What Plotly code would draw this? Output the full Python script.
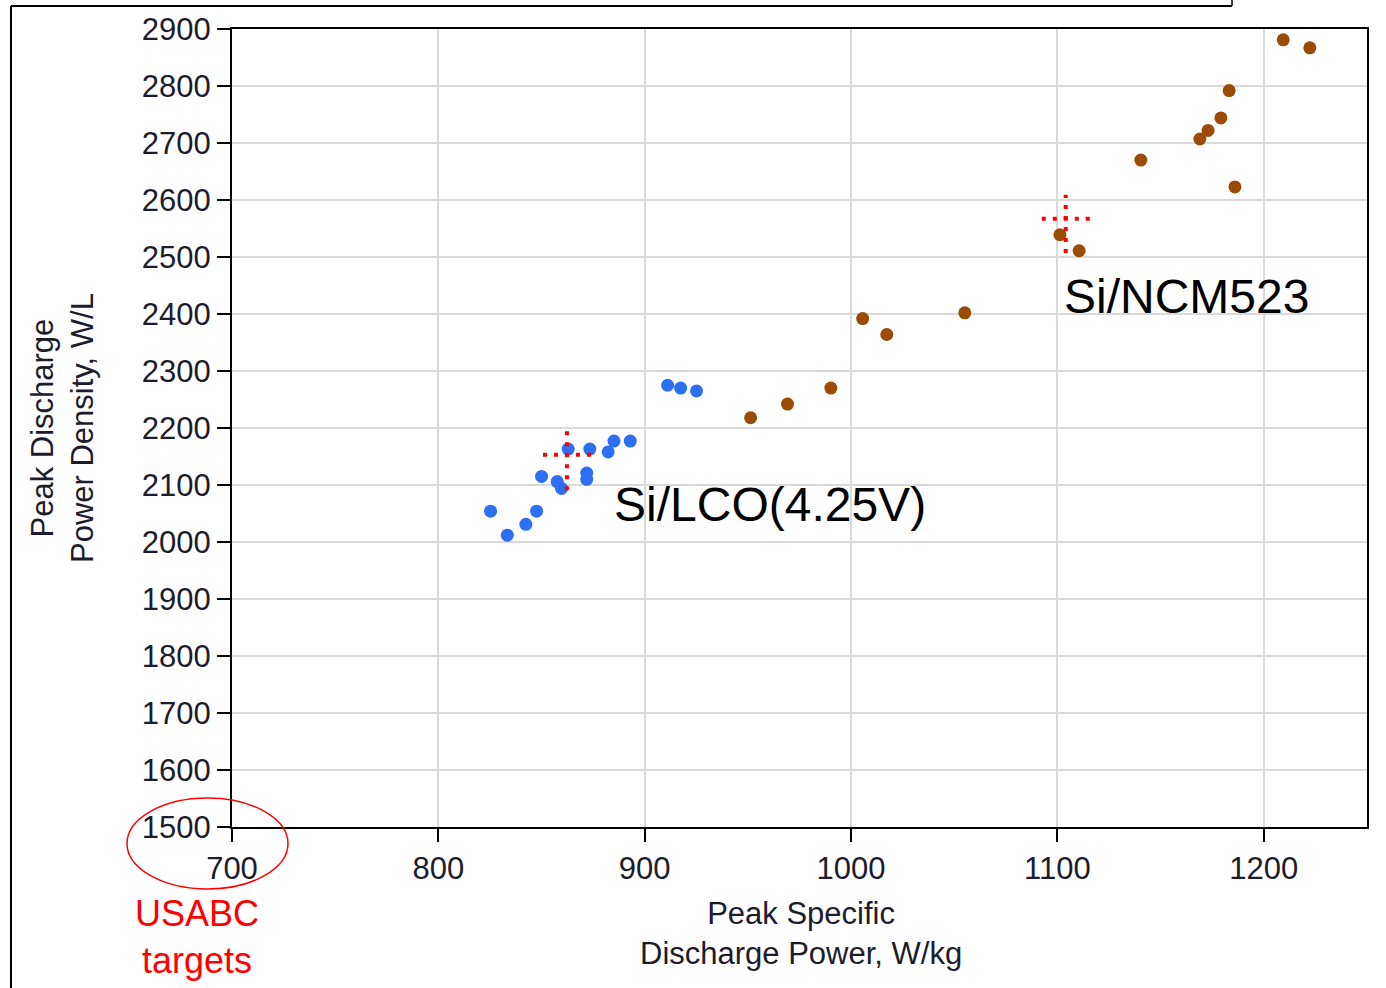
import plotly.graph_objects as go

# ---- data ----
lco_power_wkg = [911.1, 917.4, 925.1, 885.1, 893.0, 862.9, 873.4, 882.3, 850.0, 857.6,
                 859.7, 871.9, 871.9, 825.3, 833.4, 842.4, 847.6]
lco_density_wl = [2275, 2270, 2265, 2177, 2177, 2163, 2163, 2158, 2115, 2106,
                  2094, 2121, 2110, 2054, 2012, 2031, 2054]

ncm_power_wkg = [951.3, 969.2, 990.2, 1005.6, 1017.3, 1055.1, 1209.4, 1222.3, 1183.2,
                 1179.2, 1173.0, 1169.0, 1140.4, 1186.0, 1101.2, 1110.5]
ncm_density_wl = [2218, 2242, 2270, 2392, 2364, 2402, 2881, 2867, 2792,
                  2744, 2722, 2707, 2670, 2623, 2539, 2511]

x_ticks = [700, 800, 900, 1000, 1100, 1200]
y_ticks = [1500, 1600, 1700, 1800, 1900, 2000, 2100, 2200, 2300, 2400, 2500, 2600, 2700, 2800, 2900]

# crosshair targets (center, half-widths)
lco_target = dict(x=862.3, y=2153, x0=850.7, x1=874.4, y0=2091, y1=2197)
ncm_target = dict(x=1104.0, y=2567, x0=1092.4, x1=1115.7, y0=2507, y1=2609)

# ---- layout geometry ----
W, H = 1386, 988
L, R, T, B = 232, 1367, 29, 827


def px(xp):
    return (xp - L) / (R - L)


def py(yp):
    return (B - yp) / (B - T)


FONT = "Liberation Sans, Arial, sans-serif"
TXT = "#1c1c2c"

fig = go.Figure()
fig.add_trace(go.Scatter(x=lco_power_wkg, y=lco_density_wl, mode="markers",
                         marker=dict(color="#2d6ff2", size=13, line=dict(width=0)),
                         name="Si/LCO", showlegend=False))
fig.add_trace(go.Scatter(x=ncm_power_wkg, y=ncm_density_wl, mode="markers",
                         marker=dict(color="#9a4c05", size=13, line=dict(width=0)),
                         name="Si/NCM523", showlegend=False))

shapes = []
for t in (lco_target, ncm_target):
    shapes.append(dict(type="line", xref="x", yref="y", x0=t["x0"], x1=t["x1"], y0=t["y"], y1=t["y"],
                       line=dict(color="#ff0000", width=4, dash="4px,7px")))
    shapes.append(dict(type="line", xref="x", yref="y", x0=t["x"], x1=t["x"], y0=t["y0"], y1=t["y1"],
                       line=dict(color="#ff0000", width=4, dash="4px,7px")))

# red ellipse around the origin labels
shapes.append(dict(type="circle", xref="paper", yref="paper",
                   x0=px(127), x1=px(288), y0=py(889), y1=py(798),
                   line=dict(color="#ff0000", width=1.5)))
# outer frame fragments
shapes.append(dict(type="line", xref="paper", yref="paper", x0=px(11), x1=px(11), y0=py(988), y1=py(6),
                   line=dict(color="black", width=2)))
shapes.append(dict(type="line", xref="paper", yref="paper", x0=px(11), x1=px(1232), y0=py(6), y1=py(6),
                   line=dict(color="black", width=2)))
shapes.append(dict(type="line", xref="paper", yref="paper", x0=px(1232), x1=px(1232), y0=py(6), y1=py(0),
                   line=dict(color="black", width=1.5)))

annotations = [
    dict(text="Si/NCM523", x=1102, y=2430, xref="x", yref="y", xanchor="left", yanchor="middle",
         showarrow=False, font=dict(family=FONT, size=48, color="black")),
    dict(text="Si/LCO(4.25V)", x=884, y=2065, xref="x", yref="y", xanchor="left", yanchor="middle",
         showarrow=False, font=dict(family=FONT, size=48, color="black")),
    dict(text="USABC<br>targets", x=px(197), y=py(937), xref="paper", yref="paper",
         xanchor="center", yanchor="middle", showarrow=False,
         font=dict(family=FONT, size=36, color="#ff0000")),
    dict(text="Peak Specific<br>Discharge Power, W/kg", x=px(801), y=py(933), xref="paper", yref="paper",
         xanchor="center", yanchor="middle", showarrow=False,
         font=dict(family=FONT, size=31, color=TXT)),
    dict(text="Peak Discharge<br>Power Density, W/L", x=px(62), y=py(428), xref="paper", yref="paper",
         xanchor="center", yanchor="middle", showarrow=False, textangle=-90,
         font=dict(family=FONT, size=31, color=TXT)),
]

axis_common = dict(showline=True, linecolor="black", linewidth=2, mirror=True,
                   ticks="outside", ticklen=13, tickwidth=2, tickcolor="black",
                   showgrid=True, gridcolor="#dadada", gridwidth=2, zeroline=False,
                   tickfont=dict(family=FONT, size=31, color=TXT))

fig.update_layout(
    width=W, height=H,
    margin=dict(l=L, r=W - R, t=T, b=H - B),
    paper_bgcolor="white", plot_bgcolor="white",
    xaxis=dict(range=[700, 1250], tickvals=x_ticks, ticktext=[str(v) for v in x_ticks], **axis_common),
    yaxis=dict(range=[1500, 2900], tickvals=y_ticks, ticktext=[str(v) for v in y_ticks], **axis_common),
    shapes=shapes, annotations=annotations,
)

fig.write_html("out.html")
